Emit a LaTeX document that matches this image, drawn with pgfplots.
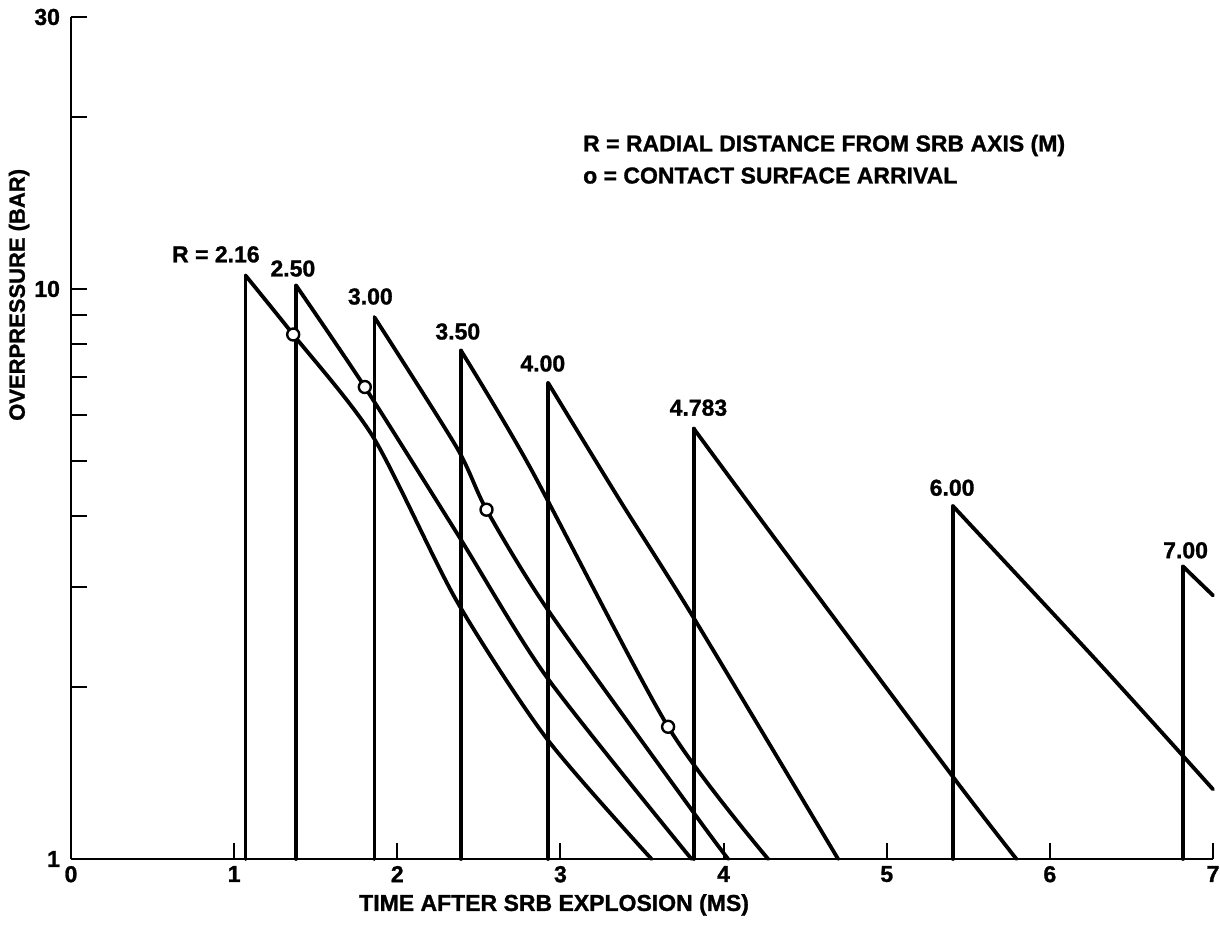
\documentclass[border=0pt]{standalone}
\usepackage{fontspec}
\setmainfont{Liberation Sans}[BoldFeatures={FakeBold=1.2}]
\usepackage{pgfplots}
\pgfplotsset{compat=1.18}
\pgfplotsset{
  curve/.style={black, solid, no markers, line width=1.9pt, line join=round, line cap=round},
  decay/.style={curve, smooth, tension=0.45},
}
\begin{document}
\begin{tikzpicture}
\begin{axis}[
  scale only axis, width=571pt, height=421pt,
  xmin=0, xmax=7, ymin=1, ymax=30, ymode=log,
  axis lines=left, axis line style={-, line width=1.4pt},
  tick align=inside,
  xtick={0,1,2,3,4,5,6,7},
  ytick={1,10,30}, yticklabels={1,10,30},
  minor ytick={2,3,4,5,6,7,8,9,20},
  major tick length=8pt, minor tick length=8pt,
  tick style={black, line width=1pt},
  tick label style={font=\fontsize{11.5}{13}\selectfont\bfseries},
  yticklabel style={xshift=-2pt},
  /pgf/number format/assume math mode=true,
  xlabel={TIME AFTER SRB EXPLOSION (MS)},
  ylabel={OVERPRESSURE (BAR)},
  xlabel style={font=\fontsize{11.5}{13}\selectfont\bfseries, at={(axis description cs:0.423,-0.0546)}, anchor=center},
  ylabel style={font=\fontsize{11}{13}\selectfont\bfseries, at={(axis description cs:-0.0455,0.67)}, anchor=center},
  clip=false,
]
% shock arrivals (vertical fronts)
\addplot[curve] coordinates {(1.07,1) (1.07,10.56)};
\addplot[curve] coordinates {(1.38,1) (1.38,10.14)};
\addplot[curve] coordinates {(1.86,1) (1.86,8.92)};
\addplot[curve] coordinates {(2.39,1) (2.39,7.80)};
\addplot[curve] coordinates {(2.925,1) (2.925,6.84)};
\addplot[curve] coordinates {(3.817,1) (3.817,5.69)};
\addplot[curve] coordinates {(5.406,1) (5.406,4.16)};
\addplot[curve] coordinates {(6.816,1) (6.816,3.26)};
% decays
% R = 2.16
\addplot[decay] coordinates {(1.07,10.56) (1.362,8.32) (1.852,5.50) (2.363,2.84) (2.915,1.628) (3.558,1)};
% R = 2.50
\addplot[decay] coordinates {(1.38,10.14) (1.801,6.73) (2.373,3.70) (2.915,2.087) (3.803,1)};
% R = 3.00
\addplot[decay] coordinates {(1.86,8.92) (2.363,5.28) (2.547,4.10) (2.925,2.73) (3.813,1.21) (4.028,1)};
% R = 3.50
\addplot[decay] coordinates {(2.39,7.80) (2.813,4.87) (3.660,1.706) (4.273,1)};
% R = 4.00
\addplot[decay] coordinates {(2.925,6.84) (3.364,4.26) (3.813,2.66) (4.702,1)};
% R = 4.783
\addplot[decay] coordinates {(3.817,5.69) (4.324,3.62) (5.406,1.394) (5.795,1)};
% R = 6.00
\addplot[decay] coordinates {(5.406,4.16) (6.305,2.20) (7.0,1.325)};
% R = 7.00
\addplot[curve] coordinates {(6.816,3.26) (7.0,2.90)};
% contact surface arrival
\addplot[only marks, mark=*, mark size=3pt, mark options={fill=white, draw=black, solid, line width=1.2pt}]
  coordinates {(1.362,8.32) (1.801,6.73) (2.547,4.10) (3.660,1.706)};

\begin{scope}[every node/.style={font=\fontsize{11.5}{13}\selectfont\bfseries, inner sep=0pt}]
\node at (axis cs:0.888,11.5) {R = 2.16};
\node at (axis cs:1.360,10.86) {2.50};
\node at (axis cs:1.835,9.70) {3.00};
\node at (axis cs:2.371,8.42) {3.50};
\node at (axis cs:2.892,7.40) {4.00};
\node at (axis cs:3.846,6.19) {4.783};
\node at (axis cs:5.401,4.48) {6.00};
\node at (axis cs:6.832,3.48) {7.00};
\node[anchor=west] at (axis cs:3.137,17.85) {R = RADIAL DISTANCE FROM SRB AXIS (M)};
\node[anchor=west] at (axis cs:3.137,15.81) {o = CONTACT SURFACE ARRIVAL};
\end{scope}
\end{axis}
\pgfresetboundingbox
\path (-35.5pt,-39pt) rectangle (574.5pt,429.5pt);
\end{tikzpicture}
\end{document}
